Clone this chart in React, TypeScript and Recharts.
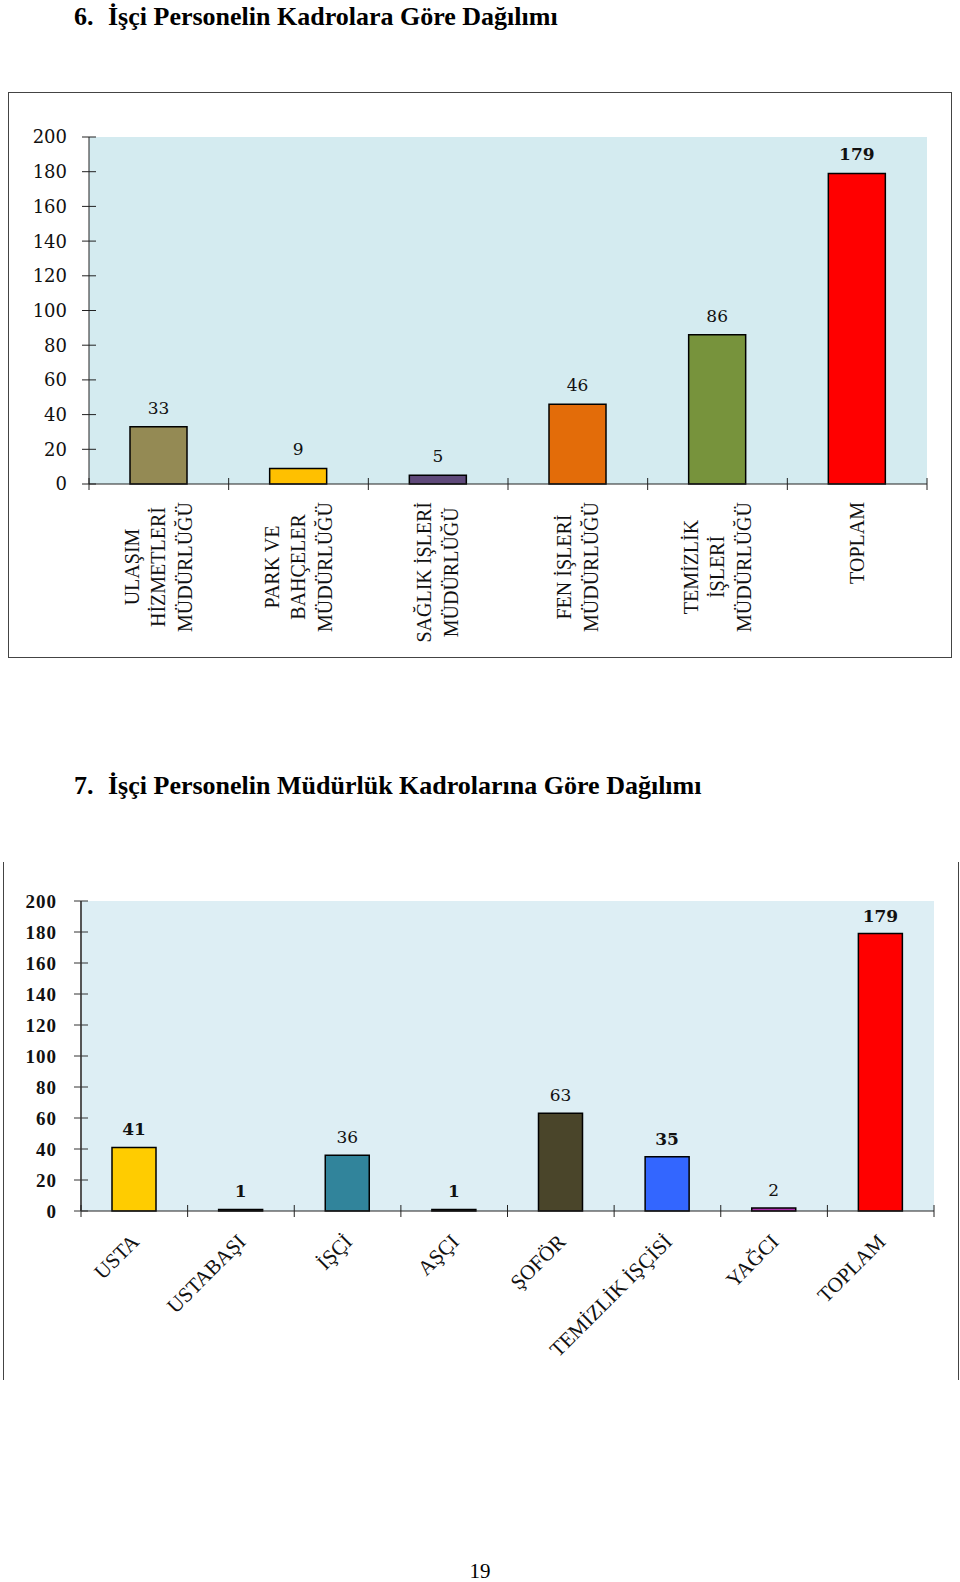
import React from 'react';
import { BarChart, Bar, XAxis, YAxis, CartesianGrid, Cell, LabelList } from 'recharts';

// Chart 6 — kadrolara göre
const kadroCategories = [
  'ULAŞIM\nHİZMETLERİ\nMÜDÜRLÜĞÜ',
  'PARK VE\nBAHÇELER\nMÜDÜRLÜĞÜ',
  'SAĞLIK İŞLERİ\nMÜDÜRLÜĞÜ',
  'FEN İŞLERİ\nMÜDÜRLÜĞÜ',
  'TEMİZLİK\nİŞLERİ\nMÜDÜRLÜĞÜ',
  'TOPLAM',
];
const kadroValues = [33, 9, 5, 46, 86, 179];
const kadroColors = ['#948A54', '#FFC000', '#5F497A', '#E36C09', '#77933C', '#FF0000'];

// Chart 7 — müdürlük kadrolarına göre
const mudurlukCategories = ['USTA', 'USTABAŞI', 'İŞÇİ', 'AŞÇI', 'ŞOFÖR', 'TEMİZLİK İŞÇİSİ', 'YAĞCI', 'TOPLAM'];
const mudurlukValues = [41, 1, 36, 1, 63, 35, 2, 179];
const mudurlukColors = ['#FFCC00', '#1A1A1A', '#31849B', '#1A1A1A', '#4A452A', '#3366FF', '#B030B0', '#FF0000'];
const mudurlukBold = [0, 1, 3, 5, 7];

const yTicks = [0, 20, 40, 60, 80, 100, 120, 140, 160, 180, 200];

const data1 = kadroCategories.map((name, i) => ({ name, value: kadroValues[i] }));
const data2 = mudurlukCategories.map((name, i) => ({ name, value: mudurlukValues[i] }));

const SERIF = "'Liberation Serif', 'Times New Roman', serif";
const DJ = "'DejaVu Serif', serif";

let ctx: CanvasRenderingContext2D | null = null;
function textWidth(t: string, font: string) {
  if (!ctx) ctx = document.createElement('canvas').getContext('2d');
  if (!ctx) return t.length * 10;
  ctx.font = font;
  return ctx.measureText(t).width;
}

// chart 1 geometry
const C1 = { w: 942, h: 564, left: 80, right: 24, top: 44, bottom: 173 };
const band1 = (C1.w - C1.left - C1.right) / kadroCategories.length;
// chart 2 geometry
const C2 = { w: 954, h: 518, left: 77, right: 24, top: 39, bottom: 169 };
const band2 = (C2.w - C2.left - C2.right) / mudurlukCategories.length;

const YTick1 = (p: any) => (
  <g>
    <line x1={p.x - 7} x2={p.x + 7} y1={p.y} y2={p.y} stroke="#222" strokeWidth={1} />
    <text x={p.x - 22} y={p.y} dy="0.36em" textAnchor="end" fontFamily={DJ} fontSize={18} fill="#111">
      {p.payload.value}
    </text>
  </g>
);

const XTick1 = (p: any) => {
  const lines: string[] = String(p.payload.value).split('\n');
  const fs = 20;
  const font = `${fs}px ${SERIF}`;
  const maxLen = Math.max(...lines.map((l) => textWidth(l, font)));
  const midY = p.y + 18 + maxLen / 2;
  const gap = 26.5;
  const half = band1 / 2;
  return (
    <g>
      <line x1={p.x - half} x2={p.x - half} y1={p.y - 6} y2={p.y + 6} stroke="#222" />
      {p.index === kadroCategories.length - 1 && (
        <line x1={p.x + half} x2={p.x + half} y1={p.y - 6} y2={p.y + 6} stroke="#222" />
      )}
      {lines.map((l, i) => {
        const bx = p.x + (i - (lines.length - 1) / 2) * gap + 6.5;
        return (
          <text
            key={i}
            x={bx}
            y={midY}
            textAnchor="middle"
            transform={`rotate(-90, ${bx}, ${midY})`}
            fontFamily={SERIF}
            fontSize={fs}
            fill="#111"
          >
            {l}
          </text>
        );
      })}
    </g>
  );
};

const YTick2 = (p: any) => (
  <g>
    <line x1={p.x - 7} x2={p.x + 7} y1={p.y} y2={p.y} stroke="#333" strokeWidth={1} />
    <text
      x={p.x - 24}
      y={p.y}
      dy="0.36em"
      textAnchor="end"
      fontFamily={SERIF}
      fontWeight="bold"
      fontSize={19}
      letterSpacing={1}
      fill="#111"
    >
      {p.payload.value}
    </text>
  </g>
);

const XTick2 = (p: any) => {
  const half = band2 / 2;
  const ax = p.x + 6;
  const ay = p.y + 32;
  return (
    <g>
      <line x1={p.x - half} x2={p.x - half} y1={p.y - 6} y2={p.y + 6} stroke="#222" />
      {p.index === mudurlukCategories.length - 1 && (
        <line x1={p.x + half} x2={p.x + half} y1={p.y - 6} y2={p.y + 6} stroke="#222" />
      )}
      <text
        x={ax}
        y={ay}
        textAnchor="end"
        transform={`rotate(-45, ${ax}, ${ay})`}
        fontFamily={SERIF}
        fontSize={21}
        fill="#111"
      >
        {p.payload.value}
      </text>
    </g>
  );
};

const label1 = (p: any) => (
  <text
    x={Number(p.x) + Number(p.width) / 2}
    y={Number(p.y) - 13}
    textAnchor="middle"
    fontFamily={DJ}
    fontSize={17}
    fontWeight={p.index === kadroValues.length - 1 ? 'bold' : 'normal'}
    fill="#111"
  >
    {p.value}
  </text>
);

const label2 = (p: any) => (
  <text
    x={Number(p.x) + Number(p.width) / 2}
    y={Number(p.y) - 12}
    textAnchor="middle"
    fontFamily={DJ}
    fontSize={17}
    fontWeight={mudurlukBold.includes(p.index) ? 'bold' : 'normal'}
    fill="#111"
  >
    {p.value}
  </text>
);

const titleStyle: React.CSSProperties = {
  position: 'absolute',
  fontFamily: SERIF,
  fontWeight: 'bold',
  fontSize: 26,
  lineHeight: '26px',
  whiteSpace: 'nowrap',
  color: '#000',
};

export default function App() {
  return (
    <div style={{ position: 'absolute', left: 0, top: 0, width: 960, height: 1582, background: '#fff' }}>
      <div style={{ ...titleStyle, left: 74, top: 4 }}>6.</div>
      <div style={{ ...titleStyle, left: 108, top: 4 }}>İşçi Personelin Kadrolara Göre Dağılımı</div>

      <div
        style={{
          position: 'absolute',
          left: 8,
          top: 92,
          width: 944,
          height: 566,
          border: '1px solid #444',
          boxSizing: 'border-box',
        }}
      >
        <BarChart
          width={C1.w}
          height={C1.h}
          data={data1}
          margin={{ top: C1.top, right: C1.right, bottom: 0, left: 0 }}
        >
          <CartesianGrid fill="#D4EBF0" stroke="none" horizontal={false} vertical={false} />
          <XAxis
            dataKey="name"
            interval={0}
            height={C1.bottom}
            tickSize={0}
            tickMargin={0}
            tickLine={false}
            axisLine={{ stroke: '#222' }}
            tick={XTick1}
          />
          <YAxis
            domain={[0, 200]}
            ticks={yTicks}
            width={C1.left}
            tickSize={0}
            tickMargin={0}
            tickLine={false}
            axisLine={{ stroke: '#222' }}
            tick={YTick1}
          />
          <Bar dataKey="value" barSize={57} stroke="#000" strokeWidth={1.5} isAnimationActive={false}>
            {data1.map((_, i) => (
              <Cell key={i} fill={kadroColors[i]} />
            ))}
            <LabelList dataKey="value" content={label1} />
          </Bar>
        </BarChart>
      </div>

      <div style={{ ...titleStyle, left: 74, top: 773 }}>7.</div>
      <div style={{ ...titleStyle, left: 108, top: 773 }}>İşçi Personelin Müdürlük Kadrolarına Göre Dağılımı</div>

      <div
        style={{
          position: 'absolute',
          left: 3,
          top: 862,
          width: 956,
          height: 518,
          borderLeft: '1px solid #444',
          borderRight: '1px solid #444',
          boxSizing: 'border-box',
        }}
      >
        <BarChart
          width={C2.w}
          height={C2.h}
          data={data2}
          margin={{ top: C2.top, right: C2.right, bottom: 0, left: 0 }}
        >
          <CartesianGrid fill="#DDEEF4" stroke="none" horizontal={false} vertical={false} />
          <XAxis
            dataKey="name"
            interval={0}
            height={C2.bottom}
            tickSize={0}
            tickMargin={0}
            tickLine={false}
            axisLine={{ stroke: '#222' }}
            tick={XTick2}
          />
          <YAxis
            domain={[0, 200]}
            ticks={yTicks}
            width={C2.left}
            tickSize={0}
            tickMargin={0}
            tickLine={false}
            axisLine={{ stroke: '#555', strokeWidth: 2 }}
            tick={YTick2}
          />
          <Bar dataKey="value" barSize={44} stroke="#000" strokeWidth={1.5} isAnimationActive={false}>
            {data2.map((_, i) => (
              <Cell key={i} fill={mudurlukColors[i]} />
            ))}
            <LabelList dataKey="value" content={label2} />
          </Bar>
        </BarChart>
      </div>

      <div
        style={{
          position: 'absolute',
          left: 0,
          width: 960,
          textAlign: 'center',
          top: 1561,
          fontFamily: SERIF,
          fontSize: 21,
          lineHeight: '21px',
          color: '#000',
        }}
      >
        19
      </div>
    </div>
  );
}
